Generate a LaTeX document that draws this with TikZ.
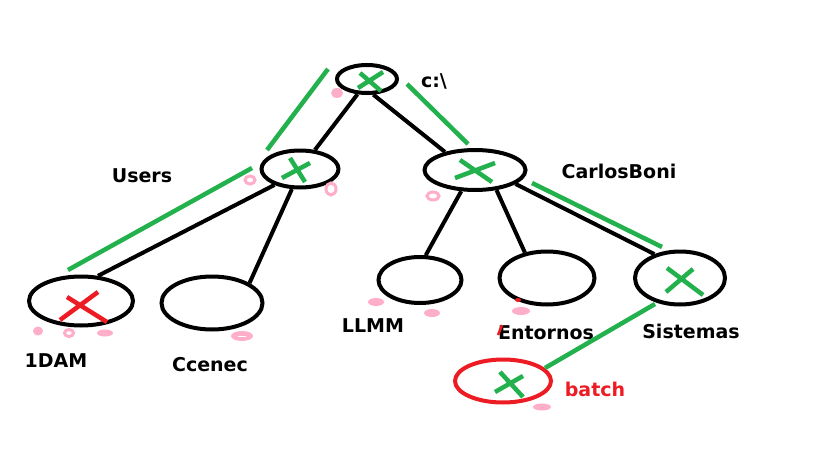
\documentclass[tikz,border=0pt]{standalone}
\usepackage{fontspec}
\setmainfont{DejaVu Sans}
\usetikzlibrary{shapes.geometric}
\definecolor{pgreen}{HTML}{22B14C}
\definecolor{pred}{HTML}{ED1C24}
\definecolor{ppink}{HTML}{FFAEC9}
\begin{document}
\begin{tikzpicture}[x=1pt,y=-1pt,
  dir/.style={ellipse,draw=black,line width=4pt,inner sep=0pt},
  reddir/.style={dir,draw=pred},
  edge/.style={line width=4pt,black},
  gx/.style={pgreen,line width=4.5pt},
  rx/.style={pred,line width=4.5pt},
  hint/.style={pgreen,line width=4.5pt},
  lbl/.style={font=\fontsize{19}{21}\selectfont\bfseries,inner sep=0pt},
  pdot/.style={fill=ppink},
  ring/.style={draw=ppink,line width=3pt}
]
\useasboundingbox[fill=white] (0,0) rectangle (816,460);

% directory nodes
\node[dir,minimum width=60pt,minimum height=28pt] (root) at (367,79) {};
\node[dir,minimum width=77pt,minimum height=37pt] (users) at (300,169) {};
\node[dir,minimum width=101pt,minimum height=40pt] (carlos) at (475,170) {};
\node[dir,minimum width=104pt,minimum height=49pt] (dam) at (81,301) {};
\node[dir,minimum width=101pt,minimum height=53pt] (ccenec) at (212,303) {};
\node[dir,minimum width=83pt,minimum height=46pt] (llmm) at (420,280) {};
\node[dir,minimum width=95pt,minimum height=53pt] (entornos) at (547,278) {};
\node[dir,minimum width=90pt,minimum height=53pt] (sistemas) at (680,278) {};
\node[reddir,minimum width=96pt,minimum height=43pt] (batch) at (503,381) {};

% tree edges
\draw[edge] (root.238) -- (users.52);
\draw[edge] (root.292) -- (carlos.149);
\draw[edge] (users.212) -- (dam.56);
\draw[edge] (users.248) -- (ccenec.28);
\draw[edge] (carlos.237) -- (llmm.77);
\draw[edge] (carlos.317) -- (entornos.131);
\draw[edge] (carlos.341) -- (sistemas.137);

% labels
\node[lbl] (lroot) at (434,81) {c:\textbackslash};
\node[lbl] (lusers) at (142,176) {Users};
\node[lbl] (lcarlos) at (619,171) {CarlosBoni};
\node[lbl] (ldam) at (56,361) {1DAM};
\node[lbl] (lccenec) at (210,365) {Ccenec};
\node[lbl] (lllmm) at (373,326) {LLMM};
\node[lbl] (lentornos) at (546,333) {Entornos};
\node[lbl] (lsistemas) at (691,331) {Sistemas};
\node[lbl,text=pred] (lbatch) at (595,389) {batch};

% green path hints
\draw[hint] (328,69) -- (267,150);
\draw[hint] (407,84) -- (468,144);
\draw[hint] (252,168) -- (68,270);
\draw[hint] (532,183) -- (662,247);
\draw[hint] (655,304) -- (545,368);

% crosses
\draw[gx] (360,73) -- (381,91) (383,72) -- (358,88);
\draw[gx] (282,178) -- (310,163) (290,158) -- (305,182);
\draw[gx] (455,178) -- (495,163) (460,160) -- (492,182);
\draw[rx] (60,320) -- (98,292) (67,297) -- (107,322);
\draw[gx] (666,292) -- (693,269) (667,268) -- (703,295);
\draw[gx] (495,392) -- (523,376) (500,372) -- (523,397);

% pink marks
\fill[pdot] (337,93) ellipse [x radius=6pt,y radius=5pt];
\draw[ring] (250,180) ellipse [x radius=5pt,y radius=4pt];
\draw[ring] (331,189) ellipse [x radius=5pt,y radius=6pt];
\draw[ring] (433,196) ellipse [x radius=6pt,y radius=4pt];
\fill[pdot] (38,331) ellipse [x radius=5pt,y radius=4.5pt];
\draw[ring] (69,333) ellipse [x radius=4.5pt,y radius=3.5pt];
\fill[pdot] (105,333) ellipse [x radius=8pt,y radius=3.5pt];
\fill[pdot] (242,336) ellipse [x radius=11pt,y radius=5pt];
\draw[white,line width=1pt] (238,336) -- (246,336);
\fill[pdot] (376,302) ellipse [x radius=8pt,y radius=4pt];
\fill[pdot] (432,313) ellipse [x radius=8pt,y radius=4pt];
\fill[pdot] (521,311) ellipse [x radius=9pt,y radius=4pt];
\fill[pdot] (542,407) ellipse [x radius=9pt,y radius=3.5pt];

% red specks near Entornos
\fill[pred] (518,300) ellipse [x radius=3pt,y radius=2pt];
\draw[pred,line width=2.5pt] (502,325) -- (498,335);
\end{tikzpicture}
\end{document}
